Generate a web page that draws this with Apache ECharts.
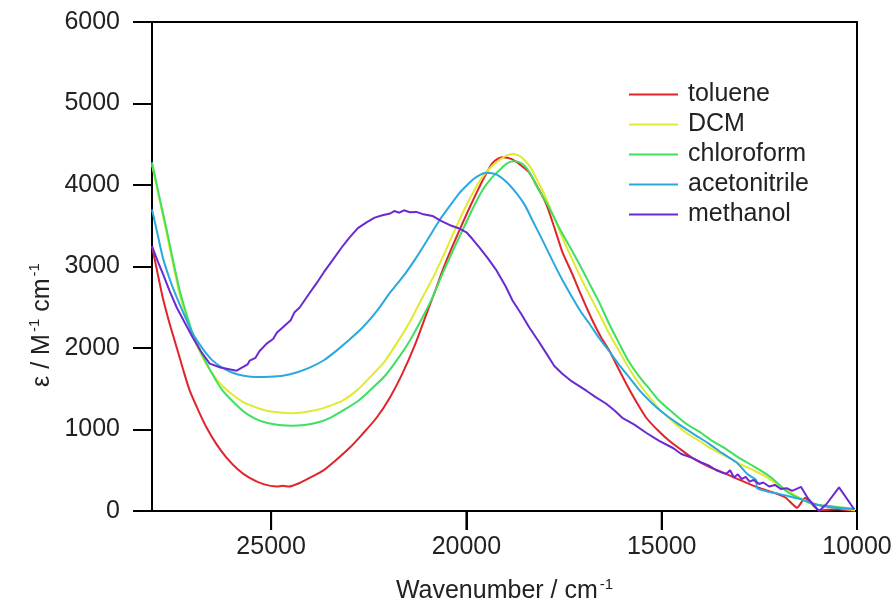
<!DOCTYPE html>
<html>
<head>
<meta charset="utf-8">
<script src="https://cdn.jsdelivr.net/npm/echarts@6/dist/echarts.min.js"></script>
<style>html,body{margin:0;padding:0;background:#fff}#c{width:896px;height:608px}</style>
</head>
<body>
<div id="c"></div>
<script>
const xTicks = [10000, 15000, 20000, 25000];
const seriesNames = ['toluene', 'DCM', 'chloroform', 'acetonitrile', 'methanol'];

const toluene = [[28050,3250],[27900,2900],[27775,2620],[27600,2300],[27417,2005],[27250,1730],[27084,1476],[26850,1220],[26650,1021],[26400,820],[26138,652],[25850,510],[25550,406],[25200,330],[24860,300],[24700,310],[24550,300],[24270,344],[24000,410],[23680,492],[23350,620],[22990,775],[22650,950],[22300,1144],[21950,1400],[21640,1685],[21300,2060],[21020,2423],[20800,2700],[20610,2952],[20400,3200],[20180,3444],[19950,3690],[19745,3900],[19550,4090],[19335,4268],[19200,4320],[19080,4340],[18850,4320],[18600,4240],[18390,4150],[18150,3950],[17950,3760],[17750,3480],[17545,3180],[17300,2920],[17110,2700],[16777,2340],[16550,2130],[16343,1968],[16100,1740],[15908,1562],[15650,1340],[15396,1144],[15100,990],[14808,861],[14500,750],[14220,652],[13800,545],[13350,455],[12900,360],[12506,283],[12100,220],[11816,160],[11535,40],[11330,160],[10970,10],[10500,20],[10050,0]];

const dcm = [[28050,4250],[27850,3800],[27672,3400],[27500,3000],[27340,2650],[27170,2380],[27007,2150],[26650,1790],[26240,1530],[25729,1340],[25115,1230],[24450,1200],[23840,1240],[23500,1290],[23170,1353],[22800,1480],[22480,1636],[22100,1830],[21790,2054],[21450,2320],[21125,2620],[20850,2870],[20610,3112],[20350,3390],[20100,3653],[19850,3890],[19590,4096],[19350,4230],[19155,4305],[18980,4360],[18820,4380],[18650,4360],[18500,4300],[18350,4210],[18210,4080],[18000,3880],[17800,3650],[17600,3420],[17400,3200],[17110,2900],[16850,2650],[16600,2420],[16350,2180],[16087,1960],[15850,1760],[15575,1560],[15300,1390],[15064,1250],[14700,1090],[14373,960],[14000,850],[13708,760],[13350,670],[13018,580],[12650,500],[12327,420],[12050,330],[11816,260],[11500,170],[11150,90],[10800,60],[10500,40],[10050,10]];

const chloroform = [[28050,4280],[27850,3830],[27672,3444],[27500,3050],[27340,2706],[27170,2420],[27007,2177],[26650,1808],[26240,1476],[25729,1230],[25400,1130],[25115,1082],[24800,1055],[24450,1045],[24150,1055],[23840,1082],[23500,1140],[23170,1230],[22800,1340],[22480,1476],[22100,1650],[21790,1845],[21450,2090],[21125,2374],[20850,2640],[20610,2915],[20350,3190],[20100,3444],[19850,3700],[19590,3936],[19350,4090],[19155,4182],[18980,4260],[18800,4290],[18650,4280],[18500,4230],[18350,4130],[18210,3990],[17900,3740],[17620,3470],[17350,3240],[17110,3030],[16850,2790],[16600,2560],[16350,2300],[16087,2054],[15850,1840],[15575,1650],[15300,1490],[15064,1353],[14700,1200],[14373,1070],[14000,960],[13708,861],[13350,760],[13018,652],[12650,550],[12327,455],[12050,350],[11816,246],[11500,160],[11150,86],[10800,65],[10500,50],[10050,25]];

const acetonitrile = [[28050,3700],[27900,3380],[27775,3112],[27600,2850],[27417,2620],[27200,2380],[27007,2177],[26750,1990],[26496,1845],[26250,1760],[25985,1697],[25700,1660],[25370,1645],[25050,1648],[24705,1660],[24350,1700],[24015,1759],[23650,1850],[23325,1968],[23000,2100],[22660,2251],[22300,2450],[21970,2669],[21600,2890],[21280,3112],[20980,3340],[20690,3567],[20430,3740],[20180,3900],[19980,4000],[19800,4080],[19650,4125],[19500,4150],[19350,4145],[19230,4130],[18980,4040],[18720,3900],[18500,3750],[18310,3567],[18050,3320],[17800,3075],[17550,2840],[17290,2620],[17080,2450],[16854,2300],[16600,2120],[16343,1960],[16100,1800],[15831,1640],[15550,1470],[15243,1320],[14900,1180],[14550,1060],[14150,935],[13785,824],[13450,710],[13095,600],[12800,450],[12583,380],[12560,280],[12300,240],[12000,210],[11700,175],[11400,140],[10970,70],[10500,37],[10050,25]];

const methanol = [[28050,3250],[27900,3060],[27775,2915],[27600,2700],[27417,2497],[27200,2300],[27007,2128],[26800,1960],[26573,1808],[26300,1760],[26138,1746],[25882,1722],[25750,1760],[25600,1800],[25550,1845],[25400,1880],[25300,1960],[25115,2054],[24950,2110],[24850,2190],[24705,2251],[24500,2340],[24400,2440],[24270,2497],[24050,2650],[23840,2792],[23650,2930],[23430,3075],[23200,3230],[22990,3358],[22780,3470],[22557,3542],[22350,3600],[22150,3628],[21950,3650],[21850,3680],[21715,3660],[21600,3690],[21450,3665],[21280,3670],[21100,3640],[20870,3620],[20650,3560],[20435,3510],[20200,3470],[20000,3420],[19850,3340],[19670,3235],[19450,3100],[19230,2952],[19000,2760],[18820,2583],[18600,2420],[18390,2251],[18150,2080],[17950,1931],[17750,1780],[17545,1685],[17300,1590],[17100,1530],[16930,1476],[16700,1400],[16420,1316],[16200,1230],[16010,1144],[15700,1060],[15400,960],[15064,861],[14700,770],[14500,700],[14220,652],[14000,600],[13800,560],[13600,500],[13450,470],[13350,455],[13250,500],[13150,410],[13050,450],[12950,390],[12850,420],[12750,360],[12650,380],[12506,332],[12400,350],[12250,300],[12100,320],[11950,270],[11800,280],[11662,246],[11432,295],[11250,150],[10970,0],[10780,86],[10460,290],[10077,25]];

const seriesData = [toluene, dcm, chloroform, acetonitrile, methanol];
const smoothness = [0.2, 0.2, 0.2, 0.2, 0];
const colors = ['#e0242a', '#e0ea30', '#3ee060', '#2aa8e0', '#6a2ad0'];

const font = 'Liberation Sans, Arial, sans-serif';
const chart = echarts.init(document.getElementById('c'), null, {renderer: 'canvas'});
chart.setOption({
  animation: false,
  backgroundColor: '#fff',
  grid: {left: 152, right: 39, top: 22, bottom: 97, outerBoundsMode: 'none',
         show: true, borderColor: '#000', borderWidth: 2},
  xAxis: {
    type: 'value', inverse: true, min: 10000, max: 28050, interval: 5000,
    name: 'Wavenumber / cm{sup|-1}', nameLocation: 'middle', nameGap: 66,
    nameTextStyle: {fontFamily: font, fontSize: 25, color: '#222', rich: {sup: {fontSize: 15, verticalAlign: 'top', padding: [0,0,14,2], fontFamily: font, color: '#222'}}},
    axisLine: {lineStyle: {color: '#000', width: 2}},
    axisTick: {show: true, length: 19, lineStyle: {color: '#000', width: 2}},
    axisLabel: {fontFamily: font, fontSize: 25, color: '#222', margin: 24, showMaxLabel: false, formatter: v => String(v)},
    splitLine: {show: false}
  },
  yAxis: {
    type: 'value', min: 0, max: 6000, interval: 1000,
    axisLine: {show: false},
    axisTick: {show: true, length: 19, lineStyle: {color: '#000', width: 2}},
    axisLabel: {fontFamily: font, fontSize: 25, color: '#222', margin: 32, formatter: v => String(v)},
    splitLine: {show: false}
  },
  legend: {
    orient: 'vertical', left: 624, top: 77, itemWidth: 49, itemHeight: 14, itemGap: 5,
    textStyle: {fontFamily: font, fontSize: 25, color: '#222', padding: [0,0,0,5]},
    data: seriesNames.map(n => ({name: n, icon: 'path://M0,0L49,0L49,2L0,2Z'}))
  },
  series: seriesNames.map((n, i) => ({
    name: n, type: 'line', data: seriesData[i], showSymbol: false, symbol: 'none',
    smooth: smoothness[i], color: colors[i],
    lineStyle: {width: 2, color: colors[i]}, itemStyle: {color: colors[i]}
  }))
});

// Axis title and x tick marks, placed through the chart's own scales.
const baseY = chart.convertToPixel({yAxisIndex: 0}, 0);
const tickEls = xTicks.map(v => {
  const px = chart.convertToPixel({xAxisIndex: 0}, v);
  return {type: 'line', silent: true, z: 10,
          shape: {x1: px, y1: baseY, x2: px, y2: baseY + 19},
          style: {stroke: '#000', lineWidth: 2}};
});
chart.setOption({
  graphic: [{
    type: 'text', x: 42, y: 325, rotation: Math.PI / 2,
    style: {
      text: 'ε / M{sup|-1} cm{sup|-1}', fontFamily: font, fontSize: 25, fill: '#222',
      align: 'center', verticalAlign: 'middle',
      rich: {sup: {fontSize: 15, verticalAlign: 'top', padding: [0,0,14,2], fontFamily: font, fill: '#222'}}
    }
  }].concat(tickEls)
});
</script>
</body>
</html>
